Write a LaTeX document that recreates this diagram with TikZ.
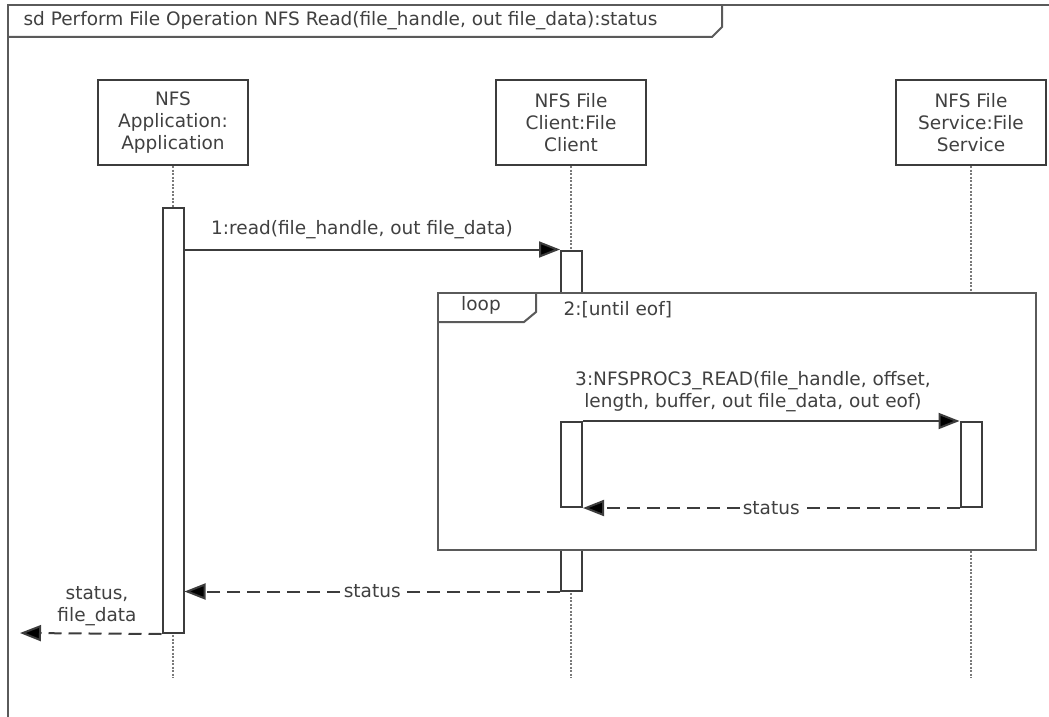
\documentclass[tikz,border=0pt]{standalone}
\usepackage{fontspec}
\setmainfont{DejaVu Sans}
\usetikzlibrary{arrows.meta}
\definecolor{ln}{HTML}{3C3C3C}
\definecolor{txt}{HTML}{404040}
\definecolor{fr}{HTML}{5A5A5A}
\definecolor{dots}{HTML}{7A7A7A}
\begin{document}
\begin{tikzpicture}[x=1pt,y=-1pt,
  every node/.style={font=\fontsize{18.5}{22}\selectfont, text=txt},
  head/.style={draw=ln, line width=2pt, minimum width=150pt, minimum height=85pt,
    align=center, inner sep=0pt},
  act/.style={draw=ln, fill=white, line width=2pt, minimum width=21pt, inner sep=0pt},
  life/.style={draw=dots, line width=2pt, dash pattern=on 2pt off 1.5pt},
  msg/.style={draw=ln, line width=2pt, -{Triangle[length=21pt,width=16pt,fill=black]}},
  ret/.style={msg, dash pattern=on 13pt off 7pt},
  lbl/.style={fill=white, inner sep=3pt},
  frm/.style={draw=fr, line width=2pt}
]
\useasboundingbox (0,0) rectangle (1049,717);

% diagram frame and its name tab
\draw[frm] (8,717) -- (8,5) -- (1049,5);
\draw[frm] (8,37) -- (712,37) -- (722,27) -- (722,5);
\node[anchor=west] (title) at (20,21) {sd Perform File Operation NFS Read(file\_handle, out file\_data):status};

% lifeline heads
\node[head] (appHead) at (173,122.5) {NFS\\Application:\\Application};
\node[head] (cliHead) at (571,122.5) {NFS File\\Client:File\\Client};
\node[head] (srvHead) at (971,122.5) {NFS File\\Service:File\\Service};
\coordinate (lifeEnd) at (0,678);

% dotted lifelines
\draw[life] (appHead.south) -- (appHead.south |- lifeEnd);
\draw[life] (cliHead.south) -- (cliHead.south |- lifeEnd);
\draw[life] (srvHead.south) -- (srvHead.south |- lifeEnd);

% activations
\node[act, minimum height=425pt] (appAct) at (173,420.5) {};
\node[act, minimum height=340pt] (cliAct) at (571.5,420.5) {};

% loop fragment
\node[frm, fill=white, minimum width=598pt, minimum height=257pt, anchor=north west,
  inner sep=0pt] (loop) at (437,292) {};
\draw[frm] (loop.north west) ++(0,30) -- ++(87,0) -- ++(12,-10) -- ++(0,-20);
\node (loopTag) at (481,305) {loop};
\node[anchor=west] (guard) at (560,310) {2:[until eof]};

\node[act, minimum height=85pt] (cliInner) at (571.5,464.5) {};
\node[act, minimum height=85pt] (srvAct) at (971,464.5) {};

% messages
\draw[msg] (appAct.east |- cliAct.north west) -- (cliAct.north west);
\node (m1) at (362,230) {1:read(file\_handle, out file\_data)};

\draw[msg] (cliInner.north east) -- (srvAct.north west);
\node[align=center] (m3) at (753,392) {3:NFSPROC3\_READ(file\_handle, offset,\\length, buffer, out file\_data, out eof)};

\draw[ret] (srvAct.south west) -- node[lbl] (r3) {status} (cliInner.south east);
\draw[ret] (cliAct.south west) -- node[lbl] (r1) {status} (appAct.east |- cliAct.south west);

\coordinate (outEnd) at (20,633);
\draw[ret] (appAct.south west) -- (outEnd);
\node[align=center] (r0) at (97,606) {status,\\file\_data};
\end{tikzpicture}
\end{document}
